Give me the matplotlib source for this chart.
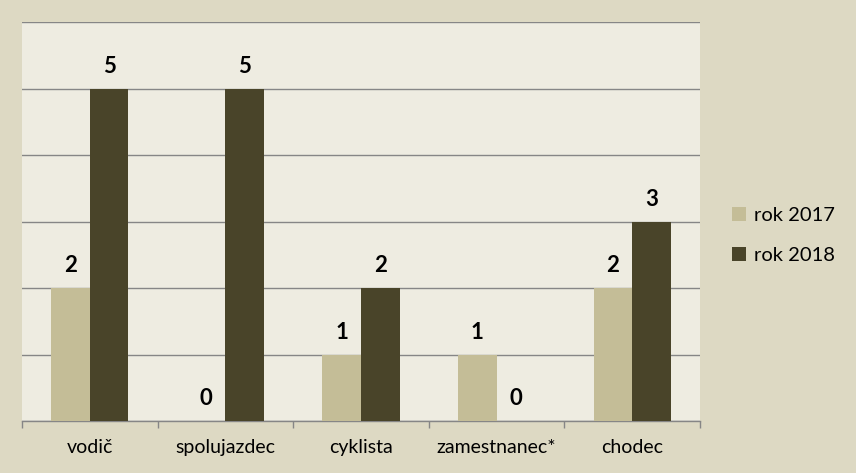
import matplotlib.pyplot as plt
import numpy as np

categories = ["vodič", "spolujazdec", "cyklista", "zamestnanec*", "chodec"]
rok_2017 = [2, 0, 1, 1, 2]
rok_2018 = [5, 5, 2, 0, 3]
series_names = ["rok 2017", "rok 2018"]

bg_outer = "#ddd9c3"
bg_plot = "#eeece1"
col_2017 = "#c4bd97"
col_2018 = "#494429"
grid_col = "#868686"

plt.rcParams['font.family'] = ['Lato', 'DejaVu Sans']

fig = plt.figure(figsize=(8.56, 4.73), dpi=100, facecolor=bg_outer)
ax = fig.add_axes([22 / 856, 52 / 473, 678 / 856, 399 / 473])
ax.set_facecolor(bg_plot)

x = np.arange(len(categories))
w = 0.285
b1 = ax.bar(x - w / 2, rok_2017, w, color=col_2017, label=series_names[0], zorder=3)
b2 = ax.bar(x + w / 2, rok_2018, w, color=col_2018, label=series_names[1], zorder=3)

for bars, vals in ((b1, rok_2017), (b2, rok_2018)):
    for rect, v in zip(bars, vals):
        ax.annotate(str(v), (rect.get_x() + rect.get_width() / 2, v),
                    xytext=(0, 11.5), textcoords="offset points",
                    ha="center", va="baseline", fontsize=16, fontweight="bold",
                    color="black")

ax.set_xlim(-0.5, len(categories) - 0.5)
ax.set_ylim(0, 6)
ax.set_yticks(range(0, 7))
ax.yaxis.grid(True, color=grid_col, linewidth=1.0, zorder=0)
ax.tick_params(axis="y", left=False, labelleft=False)

ax.set_xticks(x)
ax.set_xticklabels(categories, fontsize=14)
ax.set_xticks(np.arange(-0.5, len(categories)), minor=True)
ax.tick_params(axis="x", which="major", length=0, pad=13)
ax.tick_params(axis="x", which="minor", length=5, color=grid_col, width=1.0)

for side in ("top", "left", "right"):
    ax.spines[side].set_visible(False)
ax.spines["bottom"].set_color(grid_col)
ax.spines["bottom"].set_linewidth(1.0)

ax.legend(loc="center left", bbox_to_anchor=(1.02, 0.465), frameon=False,
          fontsize=14.5, handlelength=0.7, handleheight=0.7,
          handletextpad=0.4, labelspacing=1.15)

fig.savefig("out.png", dpi=100, facecolor=bg_outer)
